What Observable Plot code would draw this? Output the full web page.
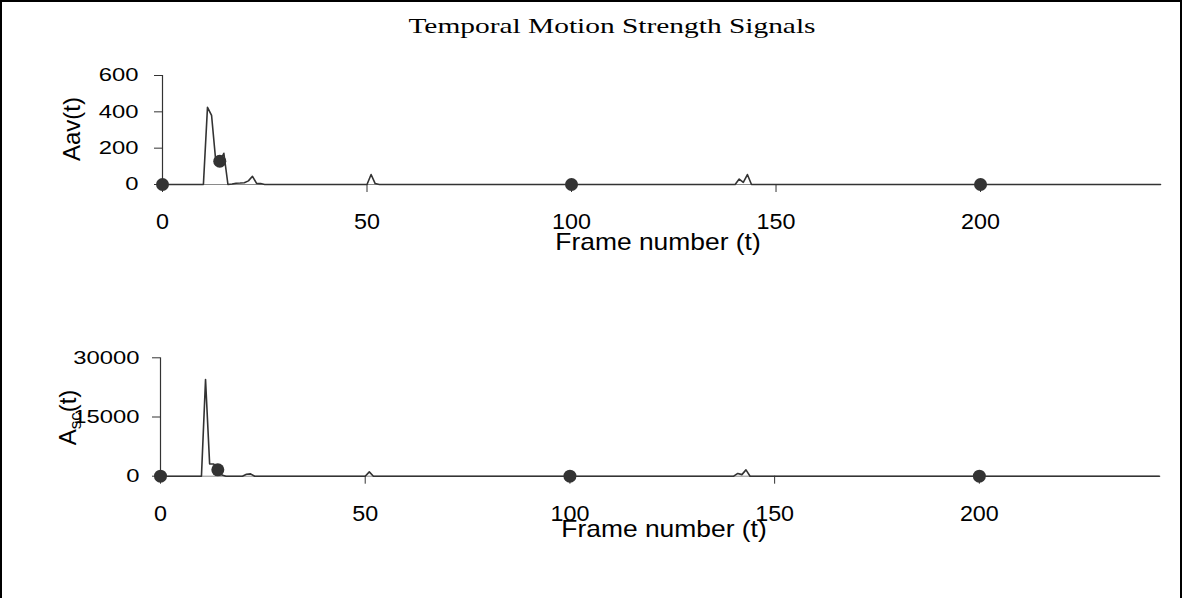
<!DOCTYPE html>
<html><head><meta charset="utf-8">
<script src="https://cdn.jsdelivr.net/npm/d3@7"></script>
<script src="https://cdn.jsdelivr.net/npm/@observablehq/plot@0.6"></script>
<style>
html,body{margin:0;padding:0;background:#fff;}
#page{position:relative;width:1183px;height:598px;overflow:hidden;background:#fff;font-family:"Liberation Sans",Arial,sans-serif;}
#frame{position:absolute;left:0;top:0;width:1182px;height:640px;border:2px solid #000;box-sizing:border-box;}
#title{position:absolute;left:312px;top:16px;width:600px;text-align:center;font-family:"Liberation Serif","Times New Roman",serif;font-size:21px;color:#000;line-height:21px;transform:scaleX(1.4);transform-origin:50% 50%;white-space:nowrap;}
.plot{position:absolute;left:0;}
</style>
</head><body>
<div id="page">
  <div id="frame"></div>
  <div id="title">Temporal Motion Strength Signals</div>
  <div id="top" class="plot" style="top:0px"></div>
  <div id="bottom" class="plot" style="top:290px"></div>
</div>
<script>
// ---- data ----
const frameTicks = [0, 50, 100, 150, 200];
const aavTicks = [0, 200, 400, 600];
const ascTicks = [0, 15000, 30000];

// Aav(t): breakpoints of the polyline (frame, value)
const aavFrames = [0, 10, 11, 12, 13, 14, 15, 16, 17, 18, 19, 20, 21, 22, 23, 24, 25, 50, 51, 52, 53, 140, 141, 142, 143, 144, 244];
const aavValues = [0, 0, 425, 380, 135, 128, 172, 0, 3, 7, 8, 10, 20, 45, 6, 5, 0, 0, 55, 5, 0, 0, 30, 12, 55, 0, 0];

// Asc(t)
const ascFrames = [0, 10, 11, 12, 13, 14, 15, 16, 20, 21, 22, 23, 50, 51, 52, 140, 141, 142, 143, 144, 244];
const ascValues = [0, 0, 24500, 3100, 3100, 1620, 300, 0, 0, 500, 600, 0, 0, 1100, 0, 0, 700, 400, 1600, 0, 0];

// markers
const markerFrames = [0, 14, 100, 200];
const aavMarkerValues = [0, 128, 0, 0];
const ascMarkerValues = [0, 1620, 0, 0];

const aavRows = aavFrames.map((t, i) => ({t, v: aavValues[i]}));
const ascRows = ascFrames.map((t, i) => ({t, v: ascValues[i]}));
const aavMarks = markerFrames.map((t, i) => ({t, v: aavMarkerValues[i]}));
const ascMarks = markerFrames.map((t, i) => ({t, v: ascMarkerValues[i]}));

const FONT = "'Liberation Sans', Arial, sans-serif";
const INK = "#333";

// widen texts horizontally (reference lettering is stretched) without moving their anchors
function widen(nodes, sx) {
  nodes.forEach(t => {
    const w = t.getComputedTextLength();
    if (w > 0) {
      t.setAttribute("textLength", (w * sx).toFixed(2));
      t.setAttribute("lengthAdjust", "spacingAndGlyphs");
    }
  });
}

function build(target, cfg, titles) {
  const svg = Plot.plot({
    width: 1183, height: cfg.height,
    marginLeft: cfg.marginLeft, marginRight: cfg.marginRight,
    marginTop: cfg.marginTop, marginBottom: cfg.marginBottom,
    x: {domain: cfg.xDomain},
    y: {domain: cfg.yDomain},
    style: {fontFamily: FONT, color: "#000", background: "transparent", overflow: "visible"},
    marks: [
      Plot.ruleY([0], {stroke: "#8a8a8a", strokeWidth: 1}),
      Plot.ruleX([0], {stroke: INK, strokeWidth: 1.2}),
      Plot.axisX({ticks: frameTicks, tickSize: 8, tickPadding: 21, fontSize: 22, stroke: INK, fill: "#000", label: null}),
      Plot.axisY({ticks: cfg.yTicks, tickSize: 8, tickPadding: cfg.yPad, fontSize: 18.6, stroke: INK, fill: "#000", label: null, tickFormat: d => String(d)}),
      Plot.line(cfg.rows, {x: "t", y: "v", stroke: INK, strokeWidth: 1.6}),
      Plot.dot(cfg.marks, {x: "t", y: "v", r: 6.5, fill: INK, stroke: "none"})
    ]
  });
  document.getElementById(target).appendChild(svg);
  widen(svg.querySelectorAll('g[aria-label="y-axis tick label"] text'), 1.28);
  widen(svg.querySelectorAll('g[aria-label="x-axis tick label"] text'), 1.06);
  const s = d3.select(svg);
  // x-axis title
  const xt = s.append("text")
    .attr("x", titles.xX).attr("y", titles.xY)
    .attr("text-anchor", "middle").attr("font-size", 24).attr("font-family", FONT).attr("fill", "#000")
    .text("Frame number (t)");
  widen([xt.node()], 1.1);
  // y-axis title
  const yt = s.append("text")
    .attr("transform", `translate(${titles.yX},${titles.yY}) rotate(-90)`)
    .attr("text-anchor", "middle").attr("font-size", 24).attr("font-family", FONT).attr("fill", "#000");
  titles.yLabel(yt);
}

build("top", {
  height: 260, marginLeft: 162, marginRight: 23, marginTop: 75, marginBottom: 76,
  xDomain: [0, 244], yDomain: [0, 600], yTicks: aavTicks, yPad: 16,
  rows: aavRows, marks: aavMarks
}, {
  xX: 658, xY: 250, yX: 80, yY: 129,
  yLabel: t => t.text("Aav(t)")
});

build("bottom", {
  height: 300, marginLeft: 160, marginRight: 24, marginTop: 67.3, marginBottom: 114.3,
  xDomain: [0, 244], yDomain: [0, 30000], yTicks: ascTicks, yPad: 13,
  rows: ascRows, marks: ascMarks
}, {
  xX: 664, xY: 247, yX: 76, yY: 127.5,
  yLabel: t => {
    t.append("tspan").text("A");
    t.append("tspan").attr("font-size", 17).attr("dy", 5).text("sc");
    t.append("tspan").attr("dy", -5).text("(t)");
  }
});
</script>
</body></html>
